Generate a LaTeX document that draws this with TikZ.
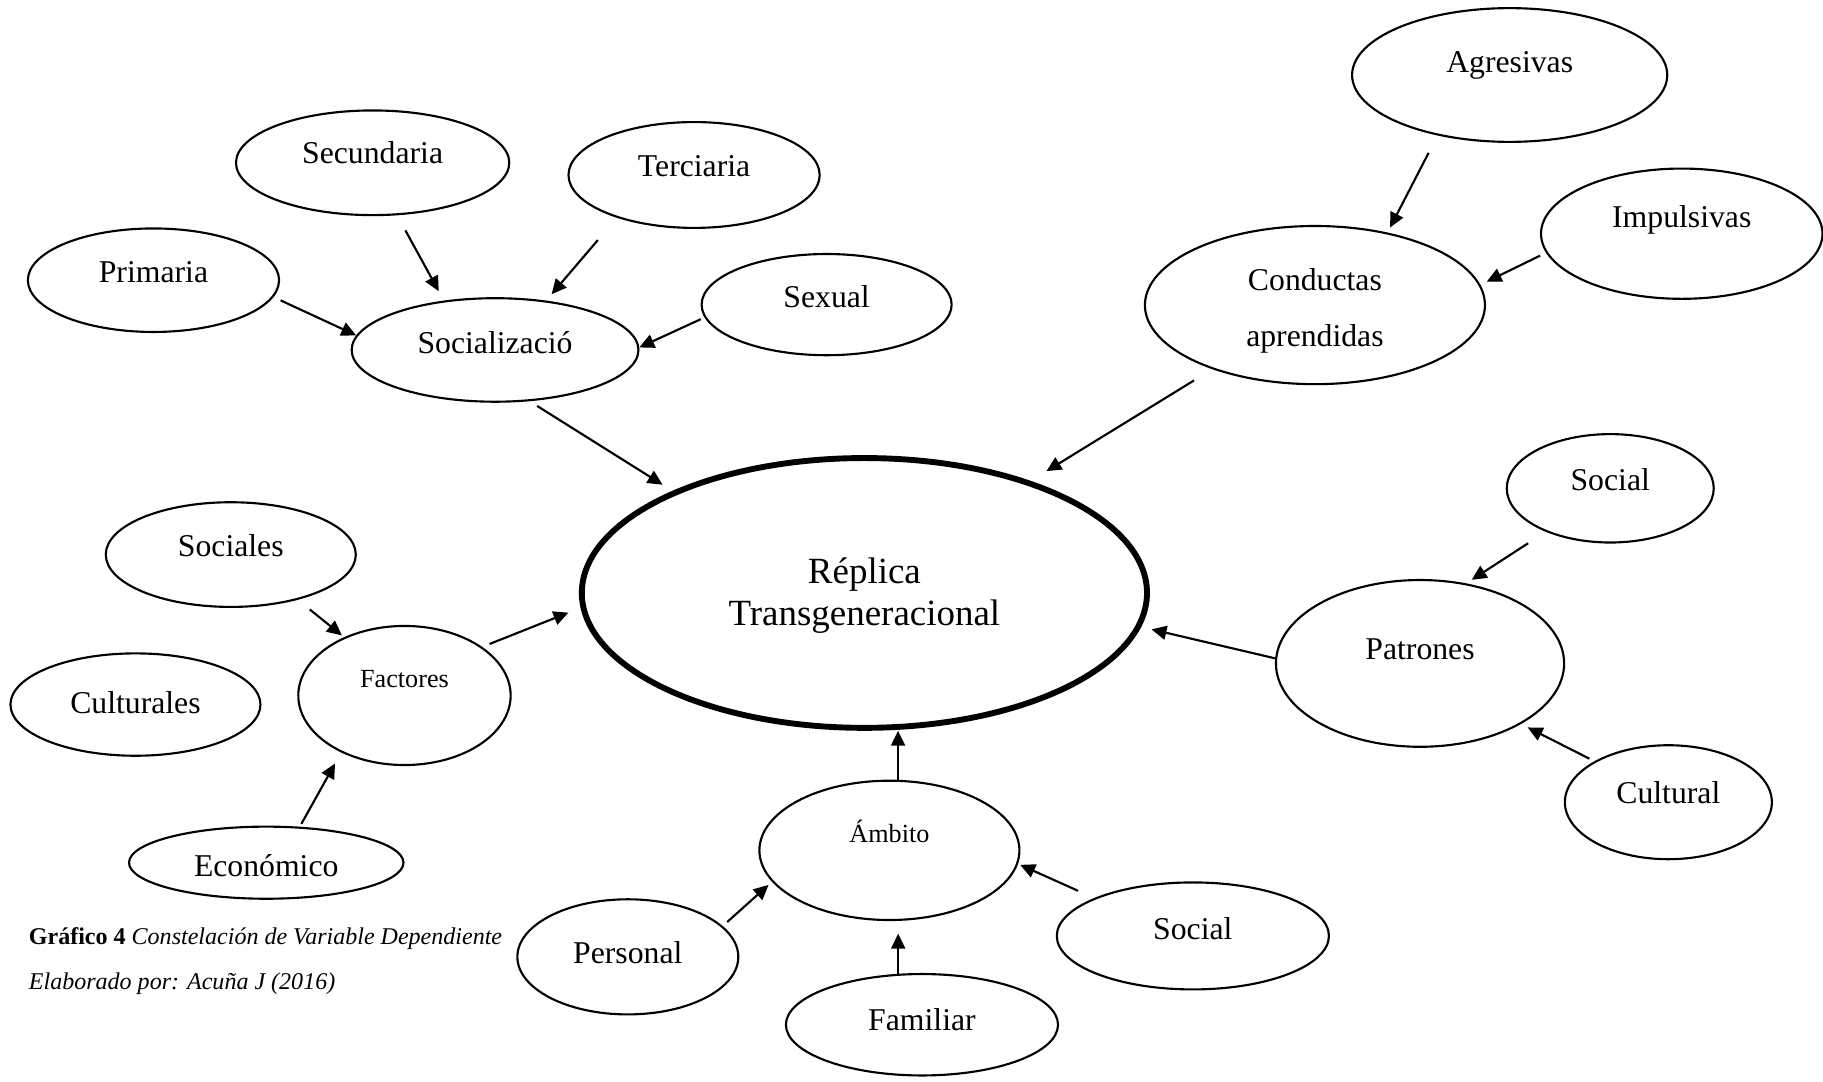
\documentclass[tikz,border=0pt]{standalone}
\usepackage{fontspec}
\setmainfont{Liberation Serif}
\usetikzlibrary{shapes.geometric,arrows.meta}

\tikzset{
  oval/.style={ellipse, draw, line width=1.3pt, inner sep=0pt},
  lbl/.style={font=\fontsize{19.4}{34}\selectfont, text height=1.5ex, text depth=.25ex},
  lbltwo/.style={font=\fontsize{19.4}{34}\selectfont, align=center},
  lblsmall/.style={font=\fontsize{16}{19}\selectfont, text height=1.5ex, text depth=.25ex},
  arr/.style={-{Triangle[length=0.32cm,width=0.3cm]}, line width=1.3pt},
  captxt/.style={anchor=base west, inner sep=0pt, font=\fontsize{14.7}{17}\selectfont},
}

\begin{document}
\begin{tikzpicture}[x=0.025cm, y=-0.025cm]
	\useasboundingbox (0,0) rectangle (1568,930);

	% centro
	\node[oval, line width=3.6pt, minimum width=12.15cm, minimum height=5.8cm, label={[lbltwo, font=\fontsize{22.6}{25.5}\selectfont, yshift=-0.06cm]center:Réplica\\Transgeneracional}] (main) at (743.5,510) {};

	% socializacion
	\node[oval, minimum width=6.165cm, minimum height=2.225cm, label={[lbl, yshift=0.03cm]center:Socializació}] (soci) at (425.8,301) {};
	\node[oval, minimum width=5.4cm, minimum height=2.225cm, label={[lbl, yshift=0.05cm]center:Primaria}] (prim) at (132,241) {};
	\node[oval, minimum width=5.875cm, minimum height=2.25cm, label={[lbl, yshift=0.08cm]center:Secundaria}] (secu) at (320.5,140) {};
	\node[oval, minimum width=5.4cm, minimum height=2.275cm, label={[lbl, yshift=0.07cm]center:Terciaria}] (terc) at (597,150.5) {};
	\node[oval, minimum width=5.375cm, minimum height=2.175cm, label={[lbl, yshift=0.03cm]center:Sexual}] (sexu) at (711,262) {};

	% conductas
	\node[oval, minimum width=7.31cm, minimum height=3.4cm, label={[lbltwo, yshift=-0.12cm]center:Conductas\\aprendidas}] (cond) at (1131,262.4) {};
	\node[oval, minimum width=6.775cm, minimum height=2.875cm, label={[lbl, yshift=0.16cm]center:Agresivas}] (agre) at (1298.5,64.5) {};
	\node[oval, minimum width=6.05cm, minimum height=2.8cm, label={[lbl, yshift=0.23cm]center:Impulsivas}] (impu) at (1446.5,201) {};

	% patrones
	\node[oval, minimum width=6.195cm, minimum height=3.585cm, label={[lbl, yshift=0.18cm]center:Patrones}] (patr) at (1221.4,570.6) {};
	\node[oval, minimum width=4.45cm, minimum height=2.33cm, label={[lbl, yshift=0.06cm]center:Social}] (socp) at (1385,420) {};
	\node[oval, minimum width=4.45cm, minimum height=2.45cm, label={[lbl, yshift=0.08cm]center:Cultural}] (cult) at (1435,690) {};

	% factores
	\node[oval, minimum width=4.565cm, minimum height=2.99cm, label={[lblsmall, yshift=0.27cm]center:Factores}] (fact) at (347.9,598.2) {};
	\node[oval, minimum width=5.375cm, minimum height=2.25cm, label={[lbl, yshift=0.07cm]center:Sociales}] (scls) at (198.5,477) {};
	\node[oval, minimum width=5.375cm, minimum height=2.2cm, label={[lbl, yshift=-0.09cm]center:Culturales}] (cltr) at (116.5,606) {};
	\node[oval, minimum width=5.9cm, minimum height=1.55cm, label={[lbl, yshift=-0.19cm]center:Económico}] (econ) at (229,742) {};

	% ambito
	\node[oval, minimum width=5.59cm, minimum height=2.995cm, label={[lblsmall, yshift=0.28cm]center:Ámbito}] (ambi) at (765,731.4) {};
	\node[oval, minimum width=4.75cm, minimum height=2.475cm, label={[lbl, yshift=-0.05cm]center:Personal}] (pers) at (540,823) {};
	\node[oval, minimum width=5.85cm, minimum height=2.3cm, label={[lbl, yshift=0.03cm]center:Social}] (soca) at (1026,805) {};
	\node[oval, minimum width=5.85cm, minimum height=2.18cm, label={[lbl, yshift=-0.02cm]center:Familiar}] (fami) at (793,881.4) {};

	% flechas
	\draw[arr, shorten <=0.17cm] (prim.-8) -- (soci.174);
	\draw[arr, shorten <=0.37cm, shorten >=0.23cm] (secu.-65) -- (soci.136);
	\draw[arr, shorten <=0.63cm, shorten >=0.18cm] (terc.-151) -- (soci.44);
	\draw[arr, shorten <=0.09cm] (sexu.-174.5) -- (soci.1.6);
	\draw[arr, shorten <=0.19cm, shorten >=0.25cm] (soci.-56) -- (main.152.5);

	\draw[arr, shorten <=0.46cm, shorten >=0.4cm] (cond.-148) -- (main.34.4);
	\draw[arr, shorten <=0.42cm, shorten >=0.12cm] (agre.-140) -- (cond.45.6);
	\draw[arr, shorten <=0.14cm, shorten >=0.15cm] (impu.-172) -- (cond.7.2);

	\draw[arr, shorten <=0.45cm, shorten >=0.14cm] (socp.-146) -- (patr.60.7);
	\draw[arr, shorten <=0.12cm, shorten >=0.16cm] (cult.151.3) -- (patr.-31.1);
	\draw[arr, shorten >=0.23cm] (patr.178.3) -- (main.-7.1);

	\draw[arr, shorten <=0.33cm, shorten >=0.06cm] (scls.-34.4) -- (fact.136.1);
	\draw[arr, shorten <=0.07cm, shorten >=0.27cm] (econ.47.6) -- (fact.-138.1);
	\draw[arr, shorten <=0.17cm, shorten >=0.28cm] (fact.32.5) -- (main.-177.5);

	\draw[arr] (ambi.83) -- (ambi.83 |- main.south);
	\draw[arr, shorten <=0.13cm, shorten >=0.1cm] (pers.18.4) -- (ambi.-165);
	\draw[arr, shorten >=0.27cm] (fami.115) -- (fami.115 |- ambi.south);
	\draw[arr, shorten <=0.38cm, shorten >=0.05cm] (soca.159.9) -- (ambi.-6.1);

	% pie
	\node[captxt] (cap1) at (24.6,812) {\textbf{Gráfico 4} \textit{Constelación de Variable Dependiente}};
	\node[captxt] (cap2) at (24.6,851) {\textit{Elaborado por: Acuña J (2016)}};
\end{tikzpicture}
\end{document}
